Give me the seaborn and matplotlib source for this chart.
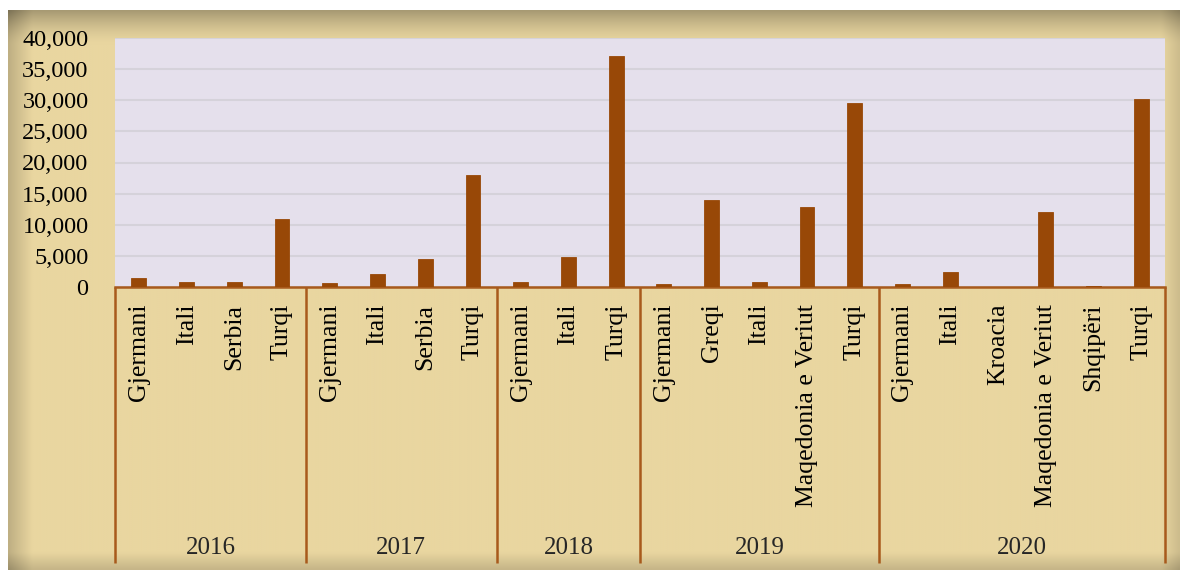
import numpy as np
import pandas as pd
import matplotlib.pyplot as plt
import matplotlib.transforms as mtransforms
from matplotlib.ticker import FuncFormatter
import seaborn as sns

# Data
years = ["2016", "2017", "2018", "2019", "2020"]
countries_2016 = ["Gjermani", "Itali", "Serbia", "Turqi"]
values_2016 = [1450, 800, 800, 10900]
countries_2017 = ["Gjermani", "Itali", "Serbia", "Turqi"]
values_2017 = [650, 2100, 4500, 18000]
countries_2018 = ["Gjermani", "Itali", "Turqi"]
values_2018 = [800, 4800, 37100]
countries_2019 = ["Gjermani", "Greqi", "Itali", "Maqedonia e Veriut", "Turqi"]
values_2019 = [500, 14000, 800, 12900, 29500]
countries_2020 = ["Gjermani", "Itali", "Kroacia", "Maqedonia e Veriut", "Shqipëri", "Turqi"]
values_2020 = [500, 2400, 50, 12100, 100, 30200]

all_countries = [countries_2016, countries_2017, countries_2018, countries_2019, countries_2020]
all_values = [values_2016, values_2017, values_2018, values_2019, values_2020]

rows = []
for yr, cs, vs in zip(years, all_countries, all_values):
    for c, v in zip(cs, vs):
        rows.append({"year": yr, "country": c, "key": yr + "|" + c, "value": v})
df = pd.DataFrame(rows)

BAR = "#984807"
LINE = "#a85a1c"

sns.set_theme(style="white")
plt.rcParams["font.family"] = ["Liberation Serif", "DejaVu Serif"]

fig = plt.figure(figsize=(11.8, 5.7), dpi=100)
fig.patch.set_facecolor("white")

# papyrus-like backdrop: tan with darker edges
bg = fig.add_axes([8 / 1180, 0, 1 - 8 / 1180, 1 - 10 / 570], zorder=-10)
h, w = 280, 580
yy = np.linspace(0, 1, h)[:, None]
xx = np.linspace(0, 1, w)[None, :]
shade = np.ones((h, w))
shade -= 0.28 * np.clip(1 - yy / 0.06, 0, 1) ** 1.5
shade -= 0.18 * np.clip(1 - xx / 0.02, 0, 1)
shade -= 0.15 * np.clip(1 - (1 - yy) / 0.03, 0, 1)
shade -= 0.12 * np.clip(1 - (1 - xx) / 0.015, 0, 1)
base = np.array([233, 214, 160]) / 255
img = np.clip(base[None, None, :] * shade[:, :, None], 0, 1)
bg.imshow(img, aspect="auto", interpolation="bilinear")
bg.axis("off")

ax = fig.add_axes([115 / 1180, 1 - 287 / 570, 1050 / 1180, 249 / 570])
ax.set_facecolor("#e5e0ec")

sns.barplot(data=df, x="key", y="value", color=BAR, width=0.31, ax=ax,
            errorbar=None, saturation=1, edgecolor=BAR, linewidth=0.6,
            zorder=3)

ax.set_xlim(-0.5, len(df) - 0.5)
ax.set_ylim(0, 40000)
ax.set_yticks(range(0, 40001, 5000))
ax.yaxis.set_major_formatter(FuncFormatter(lambda v, p: f"{v:,.0f}"))
ax.yaxis.grid(True, color="#d5d2da", linewidth=1.5, zorder=0)
ax.set_axisbelow(True)

ax.set_xticks(range(len(df)))
ax.set_xticklabels(df["country"], rotation=90, va="top", ha="center")
ax.tick_params(axis="x", length=0, pad=12, labelsize=18.5, colors="black")
ax.tick_params(axis="y", length=0, pad=19, labelsize=17.5, colors="black")
ax.set_xlabel("")
ax.set_ylabel("")

for s in ["top", "right", "left"]:
    ax.spines[s].set_visible(False)
ax.spines["bottom"].set_color(LINE)
ax.spines["bottom"].set_linewidth(1.8)

# year group separators and labels
trans = mtransforms.blended_transform_factory(ax.transData, ax.transAxes)
start = -0.5
bounds = [start]
for yr, cs in zip(years, all_countries):
    end = start + len(cs)
    ax.text((start + end) / 2, -1.048, yr, transform=trans, ha="center",
            va="center", fontsize=18)
    bounds.append(end)
    start = end
for b in bounds:
    ax.plot([b, b], [0, -1.108], transform=trans, color=LINE, lw=1.8,
            clip_on=False, solid_capstyle="butt")

plt.savefig("out.png", dpi=100, facecolor=fig.get_facecolor())
